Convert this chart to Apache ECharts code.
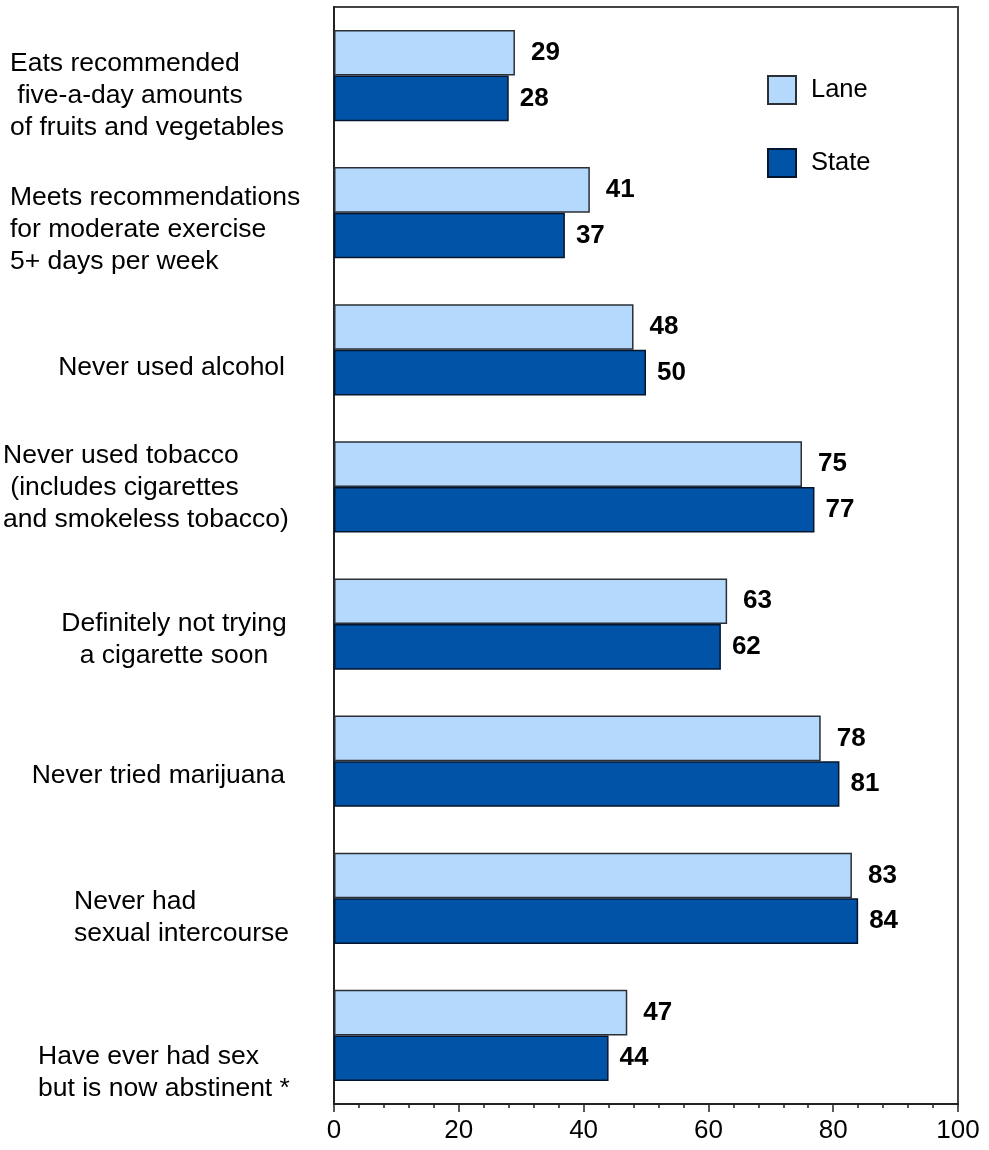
<!DOCTYPE html>
<html>
<head>
<meta charset="utf-8">
<script src="https://cdn.jsdelivr.net/npm/echarts@6/dist/echarts.min.js"></script>
<style>
html,body{margin:0;padding:0;background:#fff;}
#chart{width:989px;height:1150px;}
</style>
</head>
<body>
<div id="chart"></div>
<script>
const categories = [
  "Eats recommended\n five-a-day amounts\nof fruits and vegetables",
  "Meets recommendations\nfor moderate exercise\n5+ days per week",
  "Never used alcohol",
  "Never used tobacco\n (includes cigarettes\nand smokeless tobacco)",
  "Definitely not trying\na cigarette soon",
  "Never tried marijuana",
  "Never had\nsexual intercourse",
  "Have ever had sex\nbut is now abstinent *"
];
const seriesNames = ["Lane", "State"];
const laneValues = [29, 41, 48, 75, 63, 78, 83, 47];
const stateValues = [28, 37, 50, 77, 62, 81, 84, 44];
const xTickValues = [0, 20, 40, 60, 80, 100];

// layout of the category label blocks (anchor x, alignment, vertical shift)
const labelLayout = [
  {x: 10, align: 'left', dy: 20},
  {x: 10, align: 'left', dy: 17},
  {x: 285, align: 'right', dy: 18},
  {x: 3, align: 'left', dy: 1},
  {x: 174, align: 'center', dy: 16},
  {x: 285, align: 'right', dy: 14},
  {x: 74, align: 'left', dy: 19},
  {x: 38, align: 'left', dy: 37}
];

const FONT = '"Liberation Sans", Arial, sans-serif';
const chart = echarts.init(document.getElementById('chart'), null, {renderer: 'canvas'});

const option = {
  animation: false,
  backgroundColor: '#fff',
  textStyle: {fontFamily: FONT},
  grid: {
    left: 334, right: 31, top: 7, bottom: 46,
    show: true, borderColor: '#444', borderWidth: 2,
    containLabel: false, outerBoundsMode: 'none'
  },
  legend: {
    orient: 'vertical',
    left: 767, top: 75,
    padding: 0,
    itemWidth: 28, itemHeight: 28, itemGap: 43,
    icon: 'rect',
    data: seriesNames,
    textStyle: {fontSize: 25.5, fontFamily: FONT, color: '#000', padding: [0, 0, 0, 10]}
  },
  xAxis: {
    type: 'value', min: 0, max: 100, interval: 20,
    splitLine: {show: false},
    axisLine: {show: true, lineStyle: {color: '#222', width: 2}},
    axisTick: {show: true, length: 8, lineStyle: {color: '#222', width: 1.5}},
    minorTick: {show: true, splitNumber: 5, length: 4, lineStyle: {color: '#222', width: 1.5}},
    axisLabel: {
      fontSize: 26, fontFamily: FONT, color: '#000', margin: 14,
      formatter: v => xTickValues.indexOf(v) >= 0 ? String(v) : ''
    }
  },
  yAxis: {
    type: 'category', inverse: true, data: categories,
    axisLine: {show: true, lineStyle: {color: '#222', width: 2}},
    axisTick: {show: false},
    axisLabel: {show: false},
    splitLine: {show: false}
  },
  series: [
    {
      name: seriesNames[0], type: 'bar', data: laneValues,
      barGap: '0%', barCategoryGap: '33.5%',
      itemStyle: {color: '#B4D9FC', borderColor: '#2b2f36', borderWidth: 1.5},
      label: {show: true, position: 'right', distance: 16, fontSize: 26, fontWeight: 'bold', color: '#000', fontFamily: FONT}
    },
    {
      name: seriesNames[1], type: 'bar', data: stateValues,
      barGap: '0%', barCategoryGap: '33.5%',
      itemStyle: {color: '#0053A6', borderColor: '#04162e', borderWidth: 1.5},
      label: {show: true, position: 'right', distance: 11, fontSize: 26, fontWeight: 'bold', color: '#000', fontFamily: FONT}
    }
  ]
};
chart.setOption(option);

const graphics = categories.map((c, i) => {
  const y = chart.convertToPixel({gridIndex: 0}, [0, i])[1];
  const L = labelLayout[i];
  return {
    type: 'text',
    silent: true,
    style: {
      text: c,
      x: L.x, y: y + L.dy,
      align: L.align, verticalAlign: 'middle',
      textAlign: L.align, textVerticalAlign: 'middle',
      fontSize: 26.5, fontFamily: FONT, lineHeight: 32,
      fill: '#000'
    }
  };
});
chart.setOption({graphic: graphics});
</script>
</body>
</html>
